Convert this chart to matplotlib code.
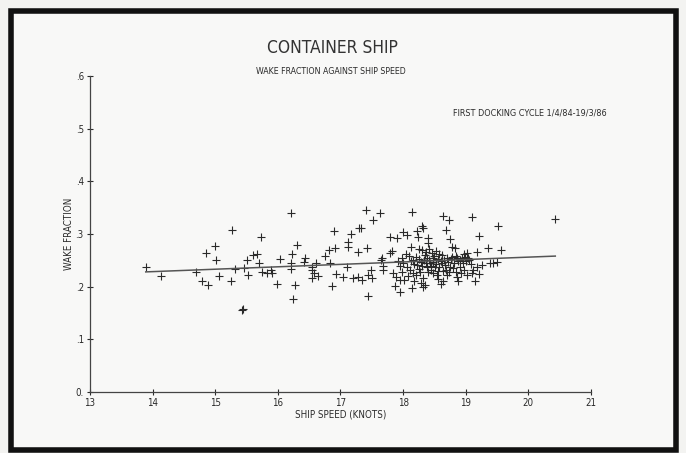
import numpy as np
import matplotlib
matplotlib.use("Agg")
import matplotlib.pyplot as plt
from matplotlib.patches import Rectangle

plt.rcParams['font.family'] = ['DejaVu Sans']
plt.rcParams['font.stretch'] = 'condensed'

# ship speed (knots) and wake fraction
speed = [
    13.89, 14.13, 14.69, 14.79, 14.88, 14.86, 15.00, 15.01, 15.06, 15.27,
    15.25, 15.32, 15.43, 15.44, 15.46, 15.51, 15.52,
    15.60, 15.67, 15.70, 15.73, 15.75, 15.83, 15.89, 15.91, 15.99, 16.04,
    16.21, 16.23, 16.31, 16.21, 16.21, 16.27, 16.24, 16.43, 16.42, 16.55,
    16.55, 16.57, 16.61, 16.55, 16.64, 16.75, 16.82, 16.91, 16.90, 16.83,
    16.93, 16.87, 17.04, 17.10, 17.12, 17.12, 17.17, 17.20, 17.30, 17.28,
    17.28,
    17.41, 17.52, 17.63, 18.14, 17.33, 17.43, 17.35, 17.44, 17.49, 17.50,
    17.44, 17.66, 17.68, 17.68, 17.79, 17.90, 17.82, 17.84, 17.89, 17.87,
    17.95, 17.95, 18.00, 18.06, 17.98, 18.00, 18.06, 18.11, 18.14, 18.16,
    18.22, 18.24, 18.22, 18.30, 18.32, 18.40, 18.40, 18.30, 18.35, 18.27,
    18.32, 18.35, 18.46, 18.48, 18.43, 18.51, 18.38, 18.40, 18.54, 17.65,
    17.79, 18.32,
    18.05, 18.10, 18.12, 18.18, 18.20, 18.25, 18.28, 18.30, 18.33, 18.36,
    18.38, 18.42, 18.44, 18.47, 18.50, 18.52, 18.55, 18.57, 18.58, 18.60,
    18.45, 18.26, 18.15, 18.08, 18.20, 18.48, 18.56, 18.62, 18.36, 18.25,
    18.12, 18.42, 18.53, 17.95, 17.92, 17.98, 18.02, 18.18, 18.28, 18.55,
    18.60,
    18.64, 18.73, 19.10, 19.52, 18.69, 18.75, 19.21, 18.78, 18.83, 19.36,
    19.57, 19.18, 19.02, 19.39, 19.44, 19.50, 19.26, 19.18, 19.12, 19.02,
    19.10, 19.21, 19.15, 18.86, 18.88, 18.64, 18.70, 18.64, 18.67, 18.75,
    18.80, 18.91, 18.96, 18.78, 18.86, 18.70, 18.62, 19.04, 18.99, 18.91,
    18.66, 18.72, 18.76, 18.82, 18.84, 18.88, 18.94, 18.97, 19.00, 19.06,
    19.08, 18.68, 18.73, 18.85, 18.93, 18.98,
    20.43,
]
wake = [
    0.237, 0.220, 0.228, 0.211, 0.203, 0.264, 0.277, 0.250, 0.220, 0.307,
    0.211, 0.233, 0.156, 0.158, 0.235, 0.250, 0.222,
    0.260, 0.262, 0.245, 0.294, 0.228, 0.226, 0.231, 0.226, 0.205, 0.252,
    0.340, 0.262, 0.279, 0.245, 0.233, 0.203, 0.176, 0.254, 0.247, 0.237,
    0.231, 0.226, 0.245, 0.216, 0.220, 0.258, 0.269, 0.273, 0.306, 0.245,
    0.224, 0.201, 0.218, 0.237, 0.285, 0.275, 0.300, 0.216, 0.311, 0.266,
    0.218,
    0.345, 0.326, 0.340, 0.342, 0.311, 0.273, 0.213, 0.222, 0.231, 0.216,
    0.182, 0.254, 0.239, 0.231, 0.294, 0.292, 0.268, 0.226, 0.218, 0.201,
    0.213, 0.190, 0.304, 0.298, 0.254, 0.245, 0.237, 0.231, 0.197, 0.250,
    0.241, 0.294, 0.306, 0.315, 0.311, 0.292, 0.283, 0.269, 0.260, 0.228,
    0.216, 0.203, 0.264, 0.254, 0.245, 0.237, 0.237, 0.228, 0.222, 0.250,
    0.264, 0.199,
    0.262, 0.258, 0.249, 0.243, 0.256, 0.252, 0.246, 0.239, 0.250, 0.244,
    0.255, 0.251, 0.240, 0.247, 0.258, 0.243, 0.252, 0.262, 0.238, 0.248,
    0.232, 0.233, 0.226, 0.220, 0.222, 0.226, 0.230, 0.244, 0.265, 0.272,
    0.275, 0.271, 0.268, 0.240, 0.248, 0.228, 0.213, 0.210, 0.206, 0.215,
    0.205,
    0.334, 0.326, 0.332, 0.315, 0.307, 0.290, 0.296, 0.275, 0.273, 0.273,
    0.269, 0.266, 0.264, 0.245, 0.245, 0.247, 0.241, 0.237, 0.231, 0.222,
    0.226, 0.224, 0.211, 0.218, 0.211, 0.211, 0.222, 0.230, 0.241, 0.237,
    0.235, 0.237, 0.245, 0.256, 0.254, 0.254, 0.260, 0.254, 0.256, 0.250,
    0.250, 0.247, 0.252, 0.245, 0.258, 0.248, 0.255, 0.262, 0.248, 0.250,
    0.243, 0.232, 0.228, 0.228, 0.226, 0.232,
    0.328,
]

# fitted line end points
fit_speed = [13.89, 20.43]
fit_wake = [0.228, 0.258]

x_ticks = [13, 14, 15, 16, 17, 18, 19, 20, 21]
y_ticks = [0.0, 0.1, 0.2, 0.3, 0.4, 0.5, 0.6]
y_tick_labels = ['0.', '.1', '.2', '.3', '.4', '.5', '.6']

ink = '#2a2a2a'

fig = plt.figure(figsize=(6.86, 4.53), dpi=100, facecolor='#f3f3f1')
# black frame of the scanned sheet
fig.patches.append(Rectangle((0.016, 0.006), 0.969, 0.970, transform=fig.transFigure,
                             facecolor='#f8f8f7', edgecolor='#111111', lw=4, zorder=-1))

ax = fig.add_axes([0.1312, 0.1347, 0.7303, 0.6976])
ax.set_facecolor('none')
ax.scatter(speed, wake, marker='+', s=30, color=ink, linewidths=0.8)
ax.plot(fit_speed, fit_wake, color='#555555', lw=1.1)

ax.set_xlim(13, 21)
ax.set_ylim(0, 0.6)
ax.set_xticks(x_ticks)
ax.set_xticklabels([str(t) for t in x_ticks], fontsize=7, color=ink)
ax.set_yticks(y_ticks)
ax.set_yticklabels(y_tick_labels, fontsize=7, color=ink)
ax.tick_params(direction='inout', length=5, width=0.8, color=ink, pad=2)
for side in ['top', 'right']:
    ax.spines[side].set_visible(False)
for side in ['left', 'bottom']:
    ax.spines[side].set_color('#444444')
    ax.spines[side].set_linewidth(0.9)

ax.set_xlabel('SHIP SPEED (KNOTS)', fontsize=7, color=ink, labelpad=1)
ax.set_ylabel('WAKE FRACTION', fontsize=7, color=ink, labelpad=1)

fig.text(0.485, 0.893, 'CONTAINER SHIP', ha='center', va='center', fontsize=12.5, color='#333333')
fig.text(0.482, 0.842, 'WAKE FRACTION AGAINST SHIP SPEED', ha='center', va='center', fontsize=6.3, color=ink)
fig.text(0.772, 0.750, 'FIRST DOCKING CYCLE 1/4/84-19/3/86', ha='center', va='center', fontsize=6.5, color=ink)

fig.savefig('out.png', dpi=100, facecolor=fig.get_facecolor())
